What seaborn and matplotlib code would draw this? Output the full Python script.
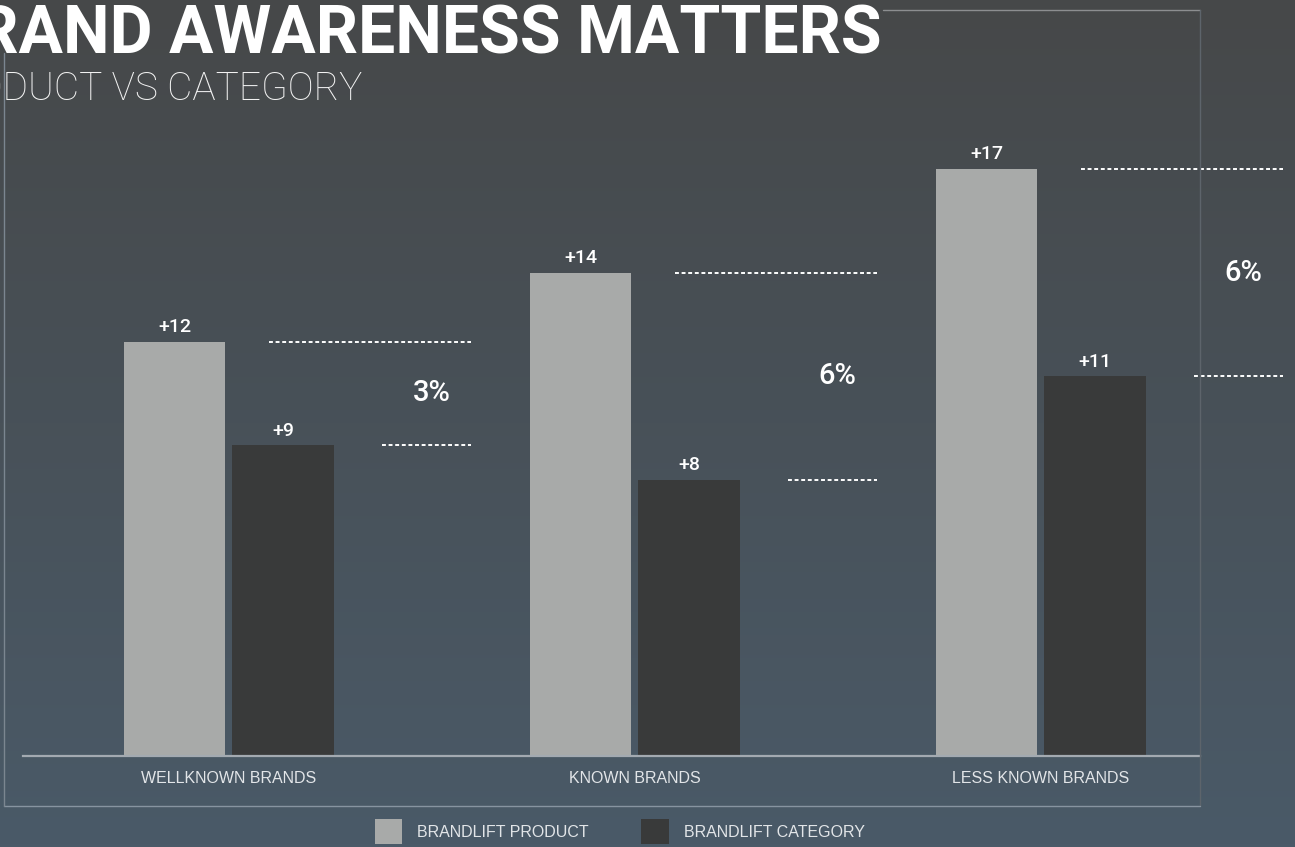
import numpy as np
import pandas as pd
import matplotlib
matplotlib.use("Agg")
import matplotlib.pyplot as plt
from matplotlib.lines import Line2D
from matplotlib.colors import to_rgb
import seaborn as sns

# ---- data -------------------------------------------------------------
categories = ["WELLKNOWN BRANDS", "KNOWN BRANDS", "LESS KNOWN BRANDS"]
series = ["BRANDLIFT PRODUCT", "BRANDLIFT CATEGORY"]
product_lift = [12, 14, 17]
category_lift = [9, 8, 11]
difference_labels = ["3%", "6%", "6%"]

title = "BRAND AWARENESS MATTERS"
subtitle = "PRODUCT VS CATEGORY"

# ---- style ------------------------------------------------------------
sns.set_theme(style="white")
plt.rcParams["font.family"] = ["Roboto", "DejaVu Sans"]

W, H = 1295, 847
fig = plt.figure(figsize=(W / 100, H / 100), dpi=100)
top_col = np.array(to_rgb("#464849"))
bot_col = np.array(to_rgb("#4a5a68"))
fig.patch.set_facecolor("#48515a")


def fx(px):
    return px / W


def fy(py):
    return 1 - py / H


# vertical background gradient
bg = fig.add_axes([0, 0, 1, 1], zorder=-10)
t = np.linspace(0, 1, 256)[:, None, None]
grad = top_col[None, None, :] * (1 - t) + bot_col[None, None, :] * t
bg.imshow(grad, aspect="auto", extent=[0, 1, 0, 1], origin="upper")
bg.set_axis_off()

# ---- bars -------------------------------------------------------------
df = pd.DataFrame({
    "category": categories * 2,
    "series": [series[0]] * 3 + [series[1]] * 3,
    "value": product_lift + category_lift,
})

ax = fig.add_axes([fx(23), fy(756), fx(1200) - fx(23), fy(100) - fy(756)])
ax.set_facecolor("none")
sns.barplot(data=df, x="category", y="value", hue="series",
            palette=["#a8aaa9", "#393a3a"], width=0.534, gap=0.06,
            saturation=1, linewidth=0, edgecolor="none", ax=ax)

for cont, vals in zip(ax.containers, [product_lift, category_lift]):
    ax.bar_label(cont, labels=[f"+{v}" for v in vals], padding=4,
                 color="white", fontsize=14, fontweight="medium")

ax.set_xlim(-0.5066, 2.3924)
ax.set_ylim(0, 19)
ax.set_xlabel("")
ax.set_ylabel("")
ax.set_yticks([])
ax.tick_params(axis="x", length=0, pad=11, labelsize=11.5,
               labelcolor="#e2e5e8")
for lab in ax.get_xticklabels():
    lab.set_family(["Liberation Sans", "DejaVu Sans"])
for side in ["top", "right", "left"]:
    ax.spines[side].set_visible(False)
ax.spines["bottom"].set_color("#a3aab1")
ax.spines["bottom"].set_linewidth(1.6)

# dotted comparison brackets and difference labels
dots = (0, (2.0, 1.4))
for i, (hi, lo, lab) in enumerate(zip(product_lift, category_lift,
                                        difference_labels)):
    ax.plot([i + 0.0985, i + 0.596], [hi, hi], color="white", lw=1.4,
            linestyle=dots, clip_on=False)
    ax.plot([i + 0.377, i + 0.598], [lo, lo], color="white", lw=1.4,
            linestyle=dots, clip_on=False)
    ax.text(i + 0.5, (hi + lo) / 2, lab, ha="center", va="center",
            color="white", fontsize=21, fontweight="medium", clip_on=False)

# ---- legend -----------------------------------------------------------
handles, labels = ax.get_legend_handles_labels()
ax.legend_.remove()
leg = fig.legend(handles, labels, loc="center", bbox_to_anchor=(0.4784, 0.018),
                 ncol=2, frameon=False, handlelength=1.75, handleheight=2.0,
                 handletextpad=0.9, columnspacing=3.3,
                 labelcolor="#e2e5e8",
                 prop={"family": ["Liberation Sans", "DejaVu Sans"], "size": 11.5})
for h in leg.legend_handles:
    h.set_linewidth(0)
    h.set_edgecolor("none")

# ---- panel frame ------------------------------------------------------
frame = [
    ((883, 10), (1200, 10), "#8c8e90"),
    ((1200, 10), (1200, 806), "#5d646b"),
    ((4, 806), (1200, 806), "#8794a0"),
    ((4, 53), (4, 806), "#7b8690"),
]
for (x0, y0), (x1, y1), c in frame:
    fig.add_artist(Line2D([fx(x0), fx(x1)], [fy(y0), fy(y1)],
                          transform=fig.transFigure, color=c, lw=1.0))

# ---- titles -----------------------------------------------------------
fig.text(fx(882), fy(53), title, ha="right", va="baseline", color="white",
         fontsize=47.5, fontweight="bold")
fig.text(fx(362), fy(100), subtitle, ha="right", va="baseline",
         color="#f2f2f2", fontsize=28.0, fontweight="light")

fig.savefig("out.png", dpi=100, facecolor=fig.get_facecolor())
